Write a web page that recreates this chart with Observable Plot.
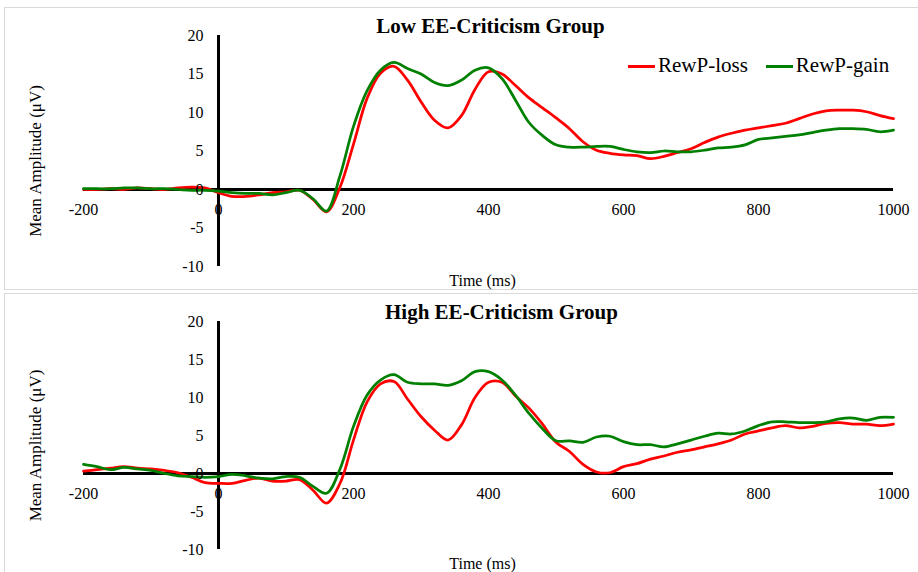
<!DOCTYPE html>
<html>
<head>
<meta charset="utf-8">
<script src="https://cdn.jsdelivr.net/npm/d3@7"></script>
<script src="https://cdn.jsdelivr.net/npm/@observablehq/plot@0.6"></script>
<style>
  html, body { margin: 0; padding: 0; background: #fff; }
  #wrap { position: relative; width: 918px; height: 572px; overflow: hidden; font-family: "Liberation Serif", serif; }
  .frame { position: absolute; border: 1px solid #d9d9d9; box-sizing: border-box; }
  .panel { position: absolute; left: 0; }
  .legend { position: absolute; font-size: 21px; white-space: nowrap; line-height: 24px; }
  .legend .sw { display: inline-block; width: 27px; height: 3px; vertical-align: middle; margin-right: 3px; position: relative; top: -1px; }
  .legend .item { display: inline-block; margin-right: 18px; }
</style>
</head>
<body>
<div id="wrap">
  <div class="frame" style="left:4px; top:7px; width:920px; height:283px;"></div>
  <div class="frame" style="left:4px; top:293px; width:920px; height:290px;"></div>
  <div class="panel" id="p1" style="top:0px;"></div>
  <div class="panel" id="p2" style="top:286px;"></div>
  <div class="legend" style="left:628px; top:53px;">
    <span class="item"><span class="sw" style="background:#ff0000"></span>RewP-loss</span><span class="item" style="margin-right:0"><span class="sw" style="background:#008000"></span>RewP-gain</span>
  </div>
</div>
<script>
const times = [-200,-180,-160,-140,-120,-100,-80,-60,-40,-20,0,20,40,60,80,100,120,140,160,180,200,220,240,260,280,300,320,340,360,380,400,420,440,460,480,500,520,540,560,580,600,620,640,660,680,700,720,740,760,780,800,820,840,860,880,900,920,940,960,980,1000];

const lowLoss = [0.0,0.0,0.1,0.0,0.2,0.1,0.0,0.2,0.3,0.2,-0.4,-0.9,-0.9,-0.7,-0.4,-0.3,-0.1,-1.3,-2.9,0.3,5.9,11.8,15.1,16.0,14.2,11.4,9.0,8.0,9.6,13.0,15.3,15.0,13.5,11.9,10.6,9.3,7.9,6.2,5.1,4.7,4.5,4.4,4.0,4.3,4.8,5.3,6.1,6.8,7.3,7.7,8.0,8.3,8.6,9.2,9.8,10.2,10.3,10.3,10.1,9.6,9.2];
const lowGain = [0.1,0.1,0.1,0.2,0.2,0.1,0.1,0.0,-0.1,-0.1,-0.2,-0.4,-0.5,-0.5,-0.7,-0.4,-0.1,-1.2,-2.8,1.8,8.2,12.8,15.5,16.5,15.7,15.0,13.9,13.5,14.2,15.5,15.8,14.4,11.6,8.7,7.0,5.8,5.5,5.5,5.6,5.6,5.2,4.9,4.8,5.0,4.9,4.9,5.1,5.4,5.5,5.8,6.5,6.7,6.9,7.1,7.4,7.7,7.9,7.9,7.8,7.5,7.7];
const highLoss = [0.3,0.5,0.7,0.9,0.7,0.6,0.4,0.1,-0.5,-1.2,-1.3,-1.3,-0.9,-0.6,-1.0,-1.0,-0.8,-2.2,-3.9,-1.3,4.4,9.4,11.8,12.1,9.8,7.5,5.7,4.4,6.4,10.0,12.0,12.0,10.2,8.6,6.5,4.1,2.9,1.2,0.2,0.1,0.9,1.3,1.9,2.3,2.8,3.1,3.5,3.9,4.4,5.2,5.6,6.0,6.3,6.0,6.2,6.6,6.7,6.5,6.5,6.3,6.5];
const highGain = [1.2,0.9,0.5,0.8,0.6,0.4,0.0,-0.3,-0.4,-0.5,-0.4,-0.1,-0.3,-0.6,-0.7,-0.4,-0.5,-1.7,-2.6,0.6,6.2,10.3,12.3,13.0,12.0,11.8,11.8,11.6,12.2,13.4,13.4,12.3,10.3,7.9,5.9,4.3,4.3,4.1,4.8,4.9,4.2,3.8,3.8,3.5,3.9,4.4,4.9,5.3,5.2,5.6,6.3,6.8,6.8,6.7,6.7,6.8,7.2,7.3,7.0,7.4,7.4];

const seriesNames = ["RewP-loss", "RewP-gain"];
const seriesColors = ["#ff0000", "#008000"];
const xTicks = [-200, 0, 200, 400, 600, 800, 1000];
const yTicks = [-10, -5, 0, 5, 10, 15, 20];
const titles = ["Low EE-Criticism Group", "High EE-Criticism Group"];

function panel(title, titleDx, loss, gain, h, mt, mb) {
  const data = [
    ...times.map((t, i) => ({t, v: loss[i], s: seriesNames[0]})),
    ...times.map((t, i) => ({t, v: gain[i], s: seriesNames[1]}))
  ];
  return Plot.plot({
    width: 918, height: h,
    marginLeft: 83, marginRight: 25, marginTop: mt, marginBottom: mb,
    x: {domain: [-200, 1000], axis: null},
    y: {domain: [-10, 20], axis: null},
    color: {domain: seriesNames, range: seriesColors},
    style: {fontFamily: "Liberation Serif", fontSize: "16px", background: "transparent", overflow: "visible", color: "#000"},
    marks: [
      Plot.ruleY([0], {stroke: "#000", strokeWidth: 3}),
      Plot.ruleX([0], {y1: -10, y2: 20, stroke: "#000", strokeWidth: 3}),
      Plot.line(data, {x: "t", y: "v", z: "s", stroke: "s", strokeWidth: 2.75, curve: "catmull-rom"}),
      Plot.text(yTicks, {x: 0, y: d => d, dx: -15, textAnchor: "end", text: d => String(d), fill: "#000", fontSize: 16, fontFamily: "Liberation Serif"}),
      Plot.text(xTicks, {x: d => d, y: 0, dy: 20, text: d => String(d), fill: "#000", fontSize: 16, fontFamily: "Liberation Serif"}),
      Plot.text([title], {frameAnchor: "top", lineAnchor: "middle", dy: -9, dx: titleDx, text: d => d, fontWeight: "bold", fontSize: 21, fill: "#000", fontFamily: "Liberation Serif"}),
      Plot.text(["Time (ms)"], {frameAnchor: "bottom", lineAnchor: "middle", dy: 14, dx: -6, text: d => d, fontSize: 16, fill: "#000", fontFamily: "Liberation Serif"}),
      Plot.text(["Mean Amplitude (\u03bcV)"], {frameAnchor: "left", textAnchor: "middle", lineAnchor: "middle", dx: -48, dy: 10, rotate: -90, text: d => d, fontSize: 17, fill: "#000", fontFamily: "Liberation Serif"})
    ]
  });
}

document.getElementById("p1").appendChild(panel(titles[0], 2, lowLoss, lowGain, 290, 35, 24));
document.getElementById("p2").appendChild(panel(titles[1], 13, highLoss, highGain, 286, 35, 23));
</script>
</body>
</html>
